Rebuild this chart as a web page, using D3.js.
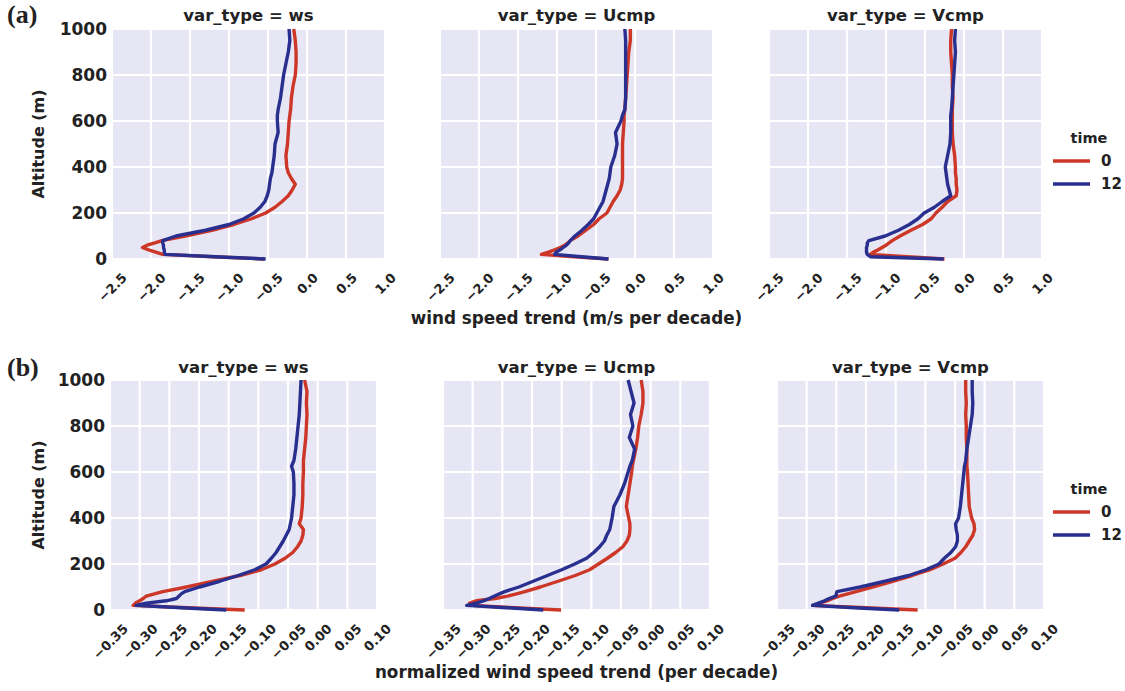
<!DOCTYPE html>
<html>
<head>
<meta charset="utf-8">
<script src="https://cdn.jsdelivr.net/npm/d3@7"></script>
<style>
  html, body { margin: 0; padding: 0; background: #ffffff; }
  svg { display: block; }
  text { font-family: "DejaVu Sans", sans-serif; font-weight: bold; fill: #222; }
</style>
</head>
<body>
<svg id="chart" width="1125" height="691"></svg>
<script>
// Altitude levels (m) shared by every profile
const altitude = [0, 10, 20, 30, 40, 50, 60, 70, 80, 100, 125, 150, 175, 200, 225, 250, 275, 300,
  325, 350, 375, 400, 450, 500, 550, 600, 625, 650, 700, 750, 800, 850, 900, 950, 1000];

const varTypes = ["ws", "Ucmp", "Vcmp"];
const times = ["0", "12"];
const yTicks = [0, 200, 400, 600, 800, 1000];
const xTicksTrend = [-2.5, -2.0, -1.5, -1.0, -0.5, 0.0, 0.5, 1.0];
const xTicksNorm = [-0.35, -0.30, -0.25, -0.20, -0.15, -0.10, -0.05, 0.00, 0.05, 0.10];

// (a) wind speed trend, m/s per decade
const trendWsT0 = [-0.55, -1.20, -1.85, -1.94, -2.03, -2.11, -2.05, -1.95, -1.86, -1.56, -1.22, -0.94, -0.71, -0.53,
  -0.41, -0.32, -0.24, -0.19, -0.15, -0.20, -0.24, -0.26, -0.27, -0.25, -0.24, -0.23, -0.22, -0.21, -0.20, -0.18,
  -0.15, -0.14, -0.14, -0.15, -0.17];
const trendWsT12 = [-0.53, -1.18, -1.82, -1.83, -1.83, -1.84, -1.84, -1.85, -1.85, -1.68, -1.30, -1.00, -0.81, -0.68,
  -0.60, -0.54, -0.51, -0.49, -0.48, -0.47, -0.45, -0.44, -0.42, -0.41, -0.37, -0.38, -0.38, -0.37, -0.34, -0.32,
  -0.30, -0.27, -0.24, -0.22, -0.23];
const trendUT0 = [-0.34, -0.78, -1.20, -1.11, -1.03, -0.96, -0.90, -0.86, -0.83, -0.73, -0.63, -0.53, -0.46, -0.36,
  -0.32, -0.28, -0.23, -0.19, -0.17, -0.16, -0.16, -0.16, -0.16, -0.16, -0.15, -0.14, -0.14, -0.13, -0.12, -0.11,
  -0.10, -0.09, -0.08, -0.06, -0.06];
const trendUT12 = [-0.34, -0.69, -1.03, -1.01, -0.96, -0.92, -0.88, -0.85, -0.83, -0.77, -0.68, -0.60, -0.53, -0.49,
  -0.45, -0.41, -0.39, -0.37, -0.35, -0.33, -0.32, -0.31, -0.26, -0.23, -0.25, -0.18, -0.16, -0.13, -0.12, -0.12,
  -0.12, -0.12, -0.12, -0.12, -0.13];
const trendVT0 = [-0.25, -0.73, -1.20, -1.16, -1.10, -1.05, -1.00, -0.96, -0.92, -0.82, -0.68, -0.53, -0.42, -0.36,
  -0.28, -0.21, -0.10, -0.09, -0.10, -0.10, -0.11, -0.11, -0.12, -0.14, -0.15, -0.15, -0.15, -0.15, -0.14, -0.15,
  -0.15, -0.16, -0.17, -0.17, -0.16];
const trendVT12 = [-0.26, -1.20, -1.24, -1.25, -1.25, -1.25, -1.24, -1.24, -1.22, -1.01, -0.84, -0.70, -0.59, -0.51,
  -0.38, -0.28, -0.17, -0.19, -0.21, -0.22, -0.23, -0.24, -0.21, -0.18, -0.17, -0.17, -0.17, -0.16, -0.15, -0.14,
  -0.13, -0.12, -0.11, -0.12, -0.11];

// (b) normalized wind speed trend, per decade
const normWsT0 = [-0.123, -0.220, -0.311, -0.307, -0.300, -0.294, -0.289, -0.275, -0.261, -0.221, -0.176, -0.131,
  -0.095, -0.072, -0.055, -0.042, -0.034, -0.028, -0.025, -0.024, -0.031, -0.028, -0.026, -0.025, -0.025, -0.024,
  -0.024, -0.024, -0.022, -0.020, -0.019, -0.018, -0.019, -0.018, -0.022];
const normWsT12 = [-0.154, -0.230, -0.306, -0.289, -0.255, -0.238, -0.234, -0.230, -0.224, -0.199, -0.165, -0.134,
  -0.106, -0.087, -0.078, -0.070, -0.064, -0.058, -0.053, -0.048, -0.046, -0.044, -0.042, -0.040, -0.040, -0.041,
  -0.044, -0.040, -0.037, -0.035, -0.033, -0.031, -0.030, -0.029, -0.028];
const normUT0 = [-0.151, -0.230, -0.300, -0.305, -0.294, -0.262, -0.241, -0.226, -0.212, -0.186, -0.156, -0.127,
  -0.103, -0.088, -0.073, -0.059, -0.047, -0.040, -0.036, -0.035, -0.035, -0.037, -0.041, -0.038, -0.035, -0.032,
  -0.031, -0.029, -0.025, -0.022, -0.020, -0.016, -0.013, -0.013, -0.016];
const normUT12 = [-0.181, -0.243, -0.310, -0.294, -0.282, -0.272, -0.264, -0.255, -0.246, -0.222, -0.198, -0.174,
  -0.150, -0.128, -0.108, -0.096, -0.086, -0.078, -0.074, -0.069, -0.067, -0.065, -0.062, -0.052, -0.044, -0.038,
  -0.035, -0.031, -0.027, -0.036, -0.030, -0.034, -0.028, -0.033, -0.038];
const normVT0 = [-0.113, -0.200, -0.290, -0.278, -0.266, -0.256, -0.245, -0.231, -0.217, -0.189, -0.155, -0.122,
  -0.092, -0.070, -0.050, -0.040, -0.032, -0.026, -0.020, -0.017, -0.018, -0.022, -0.026, -0.027, -0.028, -0.029,
  -0.030, -0.030, -0.030, -0.031, -0.031, -0.032, -0.031, -0.032, -0.032];
const normVT12 = [-0.144, -0.220, -0.290, -0.280, -0.270, -0.262, -0.251, -0.250, -0.249, -0.210, -0.168, -0.128,
  -0.099, -0.077, -0.068, -0.057, -0.049, -0.046, -0.046, -0.048, -0.049, -0.044, -0.041, -0.039, -0.037, -0.035,
  -0.034, -0.032, -0.030, -0.027, -0.024, -0.021, -0.020, -0.021, -0.021];

const timeColors = ["#cc3728", "#282f8e"];

const rows = [
  {
    tag: "(a)", top: 29, bottom: 259, lefts: [112, 440, 769], width: 273,
    domain: [-2.5, 1.0], ticks: xTicksTrend, fmt: d3.format(".1f"), tickPad: 13,
    series: [[trendWsT0, trendWsT12], [trendUT0, trendUT12], [trendVT0, trendVT12]],
    xlabel: "wind speed trend (m/s per decade)", xlabelY: 324,
    titleY: 21, tagY: 23, legendTitleY: 143, legendY: [161, 184]
  },
  {
    tag: "(b)", top: 380, bottom: 610, lefts: [110, 443, 777], width: 267,
    domain: [-0.35, 0.10], ticks: xTicksNorm, fmt: d3.format(".2f"), tickPad: 13,
    series: [[normWsT0, normWsT12], [normUT0, normUT12], [normVT0, normVT12]],
    xlabel: "normalized wind speed trend (per decade)", xlabelY: 678,
    titleY: 373, tagY: 375.5, legendTitleY: 494, legendY: [512, 535]
  }
];

const svg = d3.select("#chart");
svg.append("rect").attr("width", 1125).attr("height", 691).attr("fill", "#ffffff");

rows.forEach(row => {
  const y = d3.scaleLinear().domain([0, 1000]).range([row.bottom, row.top]);

  row.lefts.forEach((left, i) => {
    const x = d3.scaleLinear().domain(row.domain).range([0, row.width]);
    const g = svg.append("g").attr("transform", `translate(${left},0)`);

    // panel background and white grid
    g.append("rect")
      .attr("x", 0).attr("y", row.top)
      .attr("width", row.width).attr("height", row.bottom - row.top)
      .attr("fill", "#e7e6f5");
    g.selectAll("line.vgrid").data(row.ticks).join("line")
      .attr("class", "vgrid")
      .attr("x1", d => x(d)).attr("x2", d => x(d))
      .attr("y1", row.top).attr("y2", row.bottom)
      .attr("stroke", "#ffffff").attr("stroke-width", 2.2);
    g.selectAll("line.hgrid").data(yTicks).join("line")
      .attr("class", "hgrid")
      .attr("x1", 0).attr("x2", row.width)
      .attr("y1", d => y(d)).attr("y2", d => y(d))
      .attr("stroke", "#ffffff").attr("stroke-width", 2.2);

    // profiles: time 0 first, time 12 over it
    const line = d3.line().x(d => x(d[1])).y(d => y(d[0]));
    row.series[i].forEach((vals, k) => {
      g.append("path")
        .datum(altitude.map((a, j) => [a, vals[j]]))
        .attr("d", line)
        .attr("fill", "none")
        .attr("stroke", timeColors[k])
        .attr("stroke-width", 3.4)
        .attr("stroke-linejoin", "round")
        .attr("stroke-linecap", "butt");
    });

    // x axis with 45° tick labels
    const fs = 13;
    const xAxis = g.append("g")
      .attr("transform", `translate(0,${row.bottom})`)
      .call(d3.axisBottom(x).tickValues(row.ticks).tickFormat(row.fmt).tickSize(0).tickPadding(0));
    xAxis.select(".domain").remove();
    xAxis.selectAll(".tick text")
      .attr("font-size", fs)
      .attr("font-family", "DejaVu Sans")
      .attr("font-weight", "bold")
      .attr("fill", "#222")
      .attr("text-anchor", "middle")
      .attr("dy", null)
      .attr("dominant-baseline", "central")
      .each(function () {
        const L = this.getComputedTextLength();
        const half = (L + fs * 0.75) / (2 * Math.SQRT2);
        d3.select(this).attr("y", 0)
          .attr("transform", `translate(0,${row.tickPad + half}) rotate(-45)`);
      });

    // y axis only on the first panel of the row
    if (i === 0) {
      const yAxis = g.append("g")
        .call(d3.axisLeft(y).tickValues(yTicks).tickFormat(d3.format("d")).tickSize(0).tickPadding(5));
      yAxis.select(".domain").remove();
      yAxis.selectAll(".tick text")
        .attr("font-size", 17)
        .attr("font-family", "DejaVu Sans")
        .attr("font-weight", "bold")
        .attr("fill", "#222");
    }

    // facet title
    g.append("text")
      .attr("x", row.width / 2).attr("y", row.titleY)
      .attr("text-anchor", "middle")
      .attr("font-size", 16.5)
      .text(`var_type = ${varTypes[i]}`);
  });

  // shared labels
  svg.append("text")
    .attr("transform", `translate(38,${(row.top + row.bottom) / 2}) rotate(-90)`)
    .attr("text-anchor", "middle")
    .attr("dominant-baseline", "central")
    .attr("font-size", 16)
    .text("Altitude (m)");

  const midPanel = row.lefts[1] + row.width / 2;
  svg.append("text")
    .attr("x", midPanel).attr("y", row.xlabelY)
    .attr("text-anchor", "middle")
    .attr("font-size", 16.8)
    .text(row.xlabel);

  svg.append("text")
    .attr("x", 7).attr("y", row.tagY)
    .style("font-family", "'Liberation Serif', serif")
    .attr("font-size", 26)
    .text(row.tag);

  // legend
  const lg = svg.append("g");
  lg.append("text")
    .attr("x", 1089).attr("y", row.legendTitleY)
    .attr("text-anchor", "middle")
    .attr("font-size", 14.5)
    .text("time");
  times.forEach((t, k) => {
    lg.append("line")
      .attr("x1", 1053).attr("x2", 1090)
      .attr("y1", row.legendY[k]).attr("y2", row.legendY[k])
      .attr("stroke", timeColors[k]).attr("stroke-width", 3.4);
    lg.append("text")
      .attr("x", 1101).attr("y", row.legendY[k])
      .attr("dominant-baseline", "central")
      .attr("font-size", 15)
      .text(t);
  });
});
</script>
</body>
</html>
